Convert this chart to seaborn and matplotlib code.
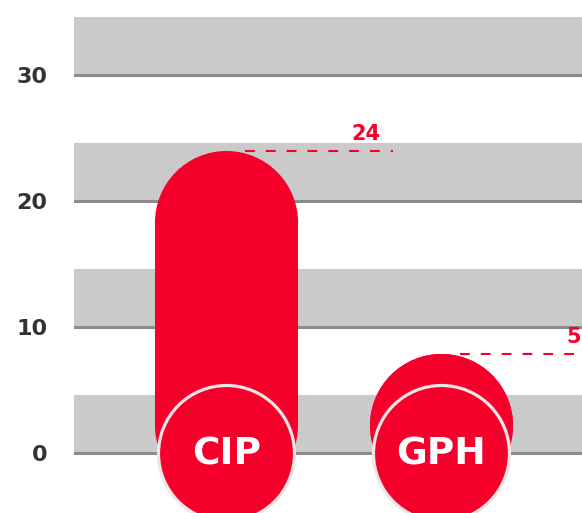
import matplotlib
matplotlib.use("Agg")
import matplotlib.pyplot as plt
import seaborn as sns

# data
categories = ["CIP", "GPH"]
values = [24, 5]
value_labels = ["24", "5"]
y_ticks = [0, 10, 20, 30]

RED = "#F5002B"
BAND = "#CACACA"
GRID = "#8C8C8C"
TEXT = "#333333"

sns.set_style("white")
plt.rcParams["font.family"] = ["DejaVu Sans"]

fig = plt.figure(figsize=(5.82, 5.13), dpi=100)
ax = fig.add_axes([74 / 582, 0, 1 - 74 / 582, 1])

# seaborn sets up the categorical axis, bars are then redrawn as pills
sns.barplot(x=categories, y=values, color=RED, ax=ax)
centers = []
for p in list(ax.patches):
    centers.append(p.get_x() + p.get_width() / 2)
    p.remove()

ax.set_ylim(-4.76, 35.95)
ax.set_xlim(-0.71, 1.66)

# background bands + gridlines
for t in y_ticks:
    ax.axhspan(t, t + 4.6, color=BAND, lw=0, zorder=0)
    ax.axhline(t, color=GRID, lw=2.2, zorder=1)

# pill shaped bars: straight part + round ends
px_per_unit = 513 / (35.95 + 4.76)
radius = 71.5 / px_per_unit
base = 2.2
tops = []
for xc, v in zip(centers, values):
    y1 = max(v - radius, base)
    ax.plot([xc, xc], [base, y1], color=RED, lw=103,
            solid_capstyle="butt", zorder=3)
    ax.scatter([xc, xc], [base, y1], s=103 ** 2, color=RED,
               linewidth=0, zorder=3)
    tops.append(y1 + radius)

# value markers
for xc, top, lab in zip(centers, tops, value_labels):
    ax.plot([xc + 0.09, xc + 0.78], [top, top], color=RED, lw=1.5,
            linestyle=(0, (4.7, 5.3)), zorder=2)
    ax.text(xc + 0.585, top + 0.55, lab, color=RED, fontsize=15,
            fontweight="bold", ha="left", va="bottom", zorder=4)

# category badges
ax.scatter(centers, [0, 0], s=9590, color=RED, edgecolor="#EFE6E1",
           linewidth=2.3, zorder=4)
for xc, cat in zip(centers, categories):
    ax.text(xc, -0.1, cat, color="white", fontsize=27, fontweight="bold",
            ha="center", va="center", zorder=5)

ax.set_yticks(y_ticks)
ax.set_yticklabels([str(t) for t in y_ticks], color=TEXT, fontsize=16,
                   fontweight="bold")
ax.tick_params(axis="y", length=0, pad=19)
ax.set_xticks([])
ax.set_xlabel("")
ax.set_ylabel("")
sns.despine(ax=ax, left=True, bottom=True)

fig.savefig("out.png", dpi=100)
